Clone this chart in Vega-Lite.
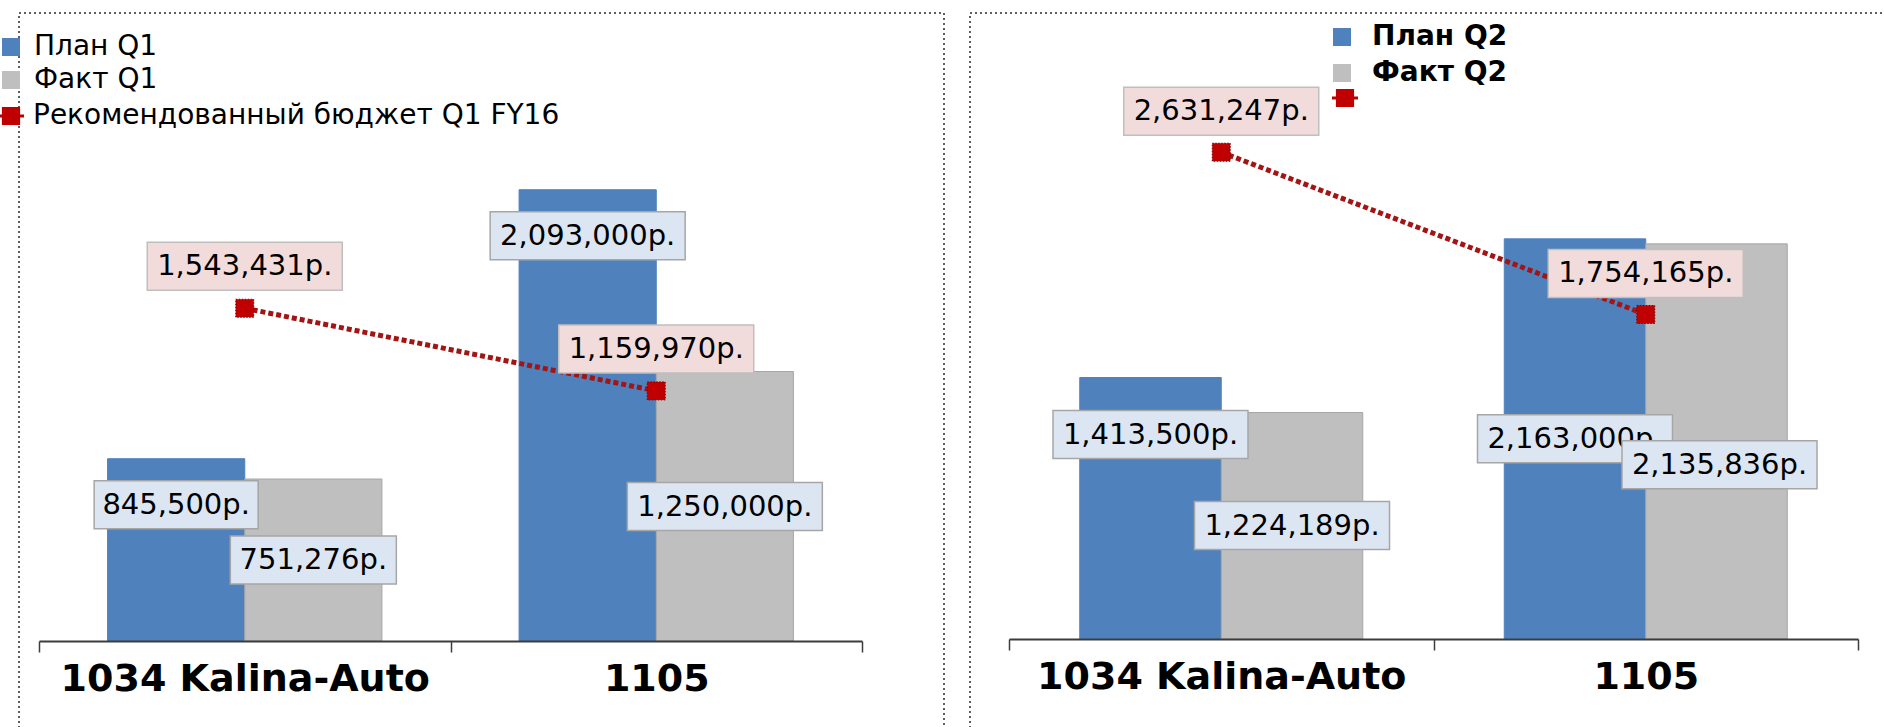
{
  "$schema": "https://vega.github.io/schema/vega-lite/v6.json",
  "background": "white",
  "padding": {"left": -4, "top": 12, "right": 0, "bottom": 0},
  "spacing": 24,
  "resolve": {
    "scale": {"color": "independent", "fill": "independent", "xOffset": "independent", "x": "independent", "y": "independent"},
    "legend": {"color": "independent", "fill": "independent"}
  },
  "config": {
    "font": "DejaVu Sans",
    "view": {"stroke": "#2a2a2a", "strokeDash": [2, 3], "strokeWidth": 1.5}
  },
  "datasets": {
    "q1": [
      {"category": "1034 Kalina-Auto", "series": "План Q1", "value": 845500},
      {"category": "1105", "series": "План Q1", "value": 2093000},
      {"category": "1034 Kalina-Auto", "series": "Факт Q1", "value": 751276},
      {"category": "1105", "series": "Факт Q1", "value": 1250000},
      {"category": "1034 Kalina-Auto", "series": "Рекомендованный бюджет Q1 FY16", "value": 1543431},
      {"category": "1105", "series": "Рекомендованный бюджет Q1 FY16", "value": 1159970}
    ],
    "q2": [
      {"category": "1034 Kalina-Auto", "series": "План Q2", "value": 1413500},
      {"category": "1105", "series": "План Q2", "value": 2163000},
      {"category": "1034 Kalina-Auto", "series": "Факт Q2", "value": 1224189},
      {"category": "1105", "series": "Факт Q2", "value": 2135836},
      {"category": "1034 Kalina-Auto", "series": "Рекомендованный бюджет Q2 FY16", "value": 2631247},
      {"category": "1105", "series": "Рекомендованный бюджет Q2 FY16", "value": 1754165}
    ]
  },
  "hconcat": [
    {
      "width": 925,
      "height": 720,
      "data": {"name": "q1"},
      "transform": [{"calculate": "format(datum.value, ',') + 'р.'", "as": "label"}],
      "encoding": {
        "x": {
          "field": "category", "type": "nominal", "sort": ["1034 Kalina-Auto", "1105"],
          "scale": {"range": [20, 843], "paddingInner": 0, "paddingOuter": 0},
          "axis": {
            "title": null, "orient": "bottom", "offset": -92, "zindex": 1, "grid": false,
            "labelAngle": 0, "labelOverlap": false, "labelLimit": 0,
            "domainColor": "#3c3c3c", "domainWidth": 2,
            "tickColor": "#3c3c3c", "tickWidth": 1.5, "tickSize": 11, "tickBand": "extent",
            "labelFont": "DejaVu Sans", "labelFontWeight": "bold", "labelFontSize": 38,
            "labelColor": "#000000", "labelBaseline": "middle", "labelPadding": 27
          }
        },
        "y": {
          "field": "value", "type": "quantitative",
          "scale": {"domain": [0, 2500000], "range": [628, 89], "nice": false},
          "axis": null
        }
      },
      "layer": [
        {
          "transform": [{"filter": {"field": "series", "oneOf": ["План Q1", "Факт Q1"]}}],
          "mark": {"type": "bar", "strokeWidth": 1, "stroke": {"expr": "datum.series == 'Факт Q1' ? '#a6a6a6' : '#4f81bd'"}},
          "encoding": {
            "xOffset": {"field": "series", "type": "nominal", "sort": ["План Q1", "Факт Q1"], "scale": {"domain": ["План Q1", "Факт Q1"], "paddingInner": 0, "paddingOuter": 0.5}},
            "color": {
              "field": "series", "type": "nominal",
              "scale": {"domain": ["План Q1", "Факт Q1"], "range": ["#4f81bd", "#bfbfbf"]},
              "legend": {
                "title": null, "orient": "none", "legendX": -22, "legendY": 20, "padding": 0,
                "symbolType": "square", "symbolSize": 324, "symbolStrokeWidth": 0,
                "labelFont": "DejaVu Sans", "labelFontSize": 28, "labelFontWeight": "normal", "labelColor": "#000000",
                "labelOffset": 9, "rowPadding": 5, "labelLimit": 0
              }
            }
          }
        },
        {
          "transform": [{"filter": {"field": "series", "equal": "Рекомендованный бюджет Q1 FY16"}}],
          "mark": {"type": "line", "color": "#a31515", "strokeWidth": 5, "strokeDash": [5, 3]},
          "encoding": {}
        },
        {
          "transform": [{"filter": {"field": "series", "equal": "Рекомендованный бюджет Q1 FY16"}}],
          "mark": {"type": "point", "shape": "square", "filled": true, "size": 324, "opacity": 1, "stroke": "#7a0000", "strokeWidth": 1, "strokeDash": [1.5, 1.5]},
          "encoding": {
            "fill": {
              "field": "series", "type": "nominal",
              "scale": {"domain": ["Рекомендованный бюджет Q1 FY16"], "range": ["#c00000"]},
              "legend": {
                "title": null, "orient": "none", "legendX": -22, "legendY": 89, "padding": 0,
                "symbolType": "M-1,-0.12H1V0.12H-1Z M-0.7,-0.7H0.7V0.7H-0.7Z", "symbolSize": 676, "symbolStrokeWidth": 0,
                "labelFont": "DejaVu Sans", "labelFontSize": 28, "labelFontWeight": "normal", "labelColor": "#000000",
                "labelOffset": 8, "labelLimit": 0
              }
            }
          }
        },
        {
          "transform": [{"filter": {"field": "series", "equal": "План Q1"}}],
          "mark": {"type": "point", "filled": true, "opacity": 1, "size": 10000, "fill": "#dce6f2", "stroke": "#a6a6a6", "strokeWidth": 1.5},
          "encoding": {
            "xOffset": {"field": "series", "type": "nominal", "sort": ["План Q1", "Факт Q1"], "scale": {"domain": ["План Q1", "Факт Q1"], "paddingInner": 0, "paddingOuter": 0.5}},
            "shape": {"condition": {"test": "datum.category == '1105'", "value": "M-1.95,0.44H1.95V1.4H-1.95Z"}, "value": "M-1.64,0.44H1.64V1.4H-1.64Z"}
          }
        },
        {
          "transform": [{"filter": {"field": "series", "equal": "План Q1"}}],
          "mark": {"type": "text", "font": "DejaVu Sans", "fontSize": 29, "color": "#000000", "baseline": "middle", "dy": 46},
          "encoding": {
            "xOffset": {"field": "series", "type": "nominal", "sort": ["План Q1", "Факт Q1"], "scale": {"domain": ["План Q1", "Факт Q1"], "paddingInner": 0, "paddingOuter": 0.5}},
            "text": {"field": "label", "type": "nominal"}
          }
        },
        {
          "transform": [{"filter": {"field": "series", "equal": "Факт Q1"}}],
          "mark": {"type": "point", "filled": true, "opacity": 1, "size": 10000, "fill": "#dce6f2", "stroke": "#a6a6a6", "strokeWidth": 1.5},
          "encoding": {
            "xOffset": {"field": "series", "type": "nominal", "sort": ["План Q1", "Факт Q1"], "scale": {"domain": ["План Q1", "Факт Q1"], "paddingInner": 0, "paddingOuter": 0.5}},
            "shape": {"condition": {"test": "datum.category == '1105'", "value": "M-1.95,2.22H1.95V3.18H-1.95Z"}, "value": "M-1.66,1.14H1.66V2.1H-1.66Z"}
          }
        },
        {
          "transform": [{"filter": {"field": "series", "equal": "Факт Q1"}}],
          "mark": {"type": "text", "font": "DejaVu Sans", "fontSize": 29, "color": "#000000", "baseline": "middle", "dy": {"expr": "datum.category == '1105' ? 135 : 81"}},
          "encoding": {
            "xOffset": {"field": "series", "type": "nominal", "sort": ["План Q1", "Факт Q1"], "scale": {"domain": ["План Q1", "Факт Q1"], "paddingInner": 0, "paddingOuter": 0.5}},
            "text": {"field": "label", "type": "nominal"}
          }
        },
        {
          "transform": [{"filter": {"field": "series", "equal": "Рекомендованный бюджет Q1 FY16"}}],
          "mark": {"type": "point", "filled": true, "opacity": 1, "size": 10000, "fill": "#f2dcdb", "stroke": "#bfbfbf", "strokeWidth": 1.5, "shape": "M-1.95,-1.32H1.95V-0.36H-1.95Z"},
          "encoding": {}
        },
        {
          "transform": [{"filter": {"field": "series", "equal": "Рекомендованный бюджет Q1 FY16"}}],
          "mark": {"type": "text", "font": "DejaVu Sans", "fontSize": 29, "color": "#000000", "baseline": "middle", "dy": -42},
          "encoding": {"text": {"field": "label", "type": "nominal"}}
        }
      ]
    },
    {
      "width": 920,
      "height": 720,
      "data": {"name": "q2"},
      "transform": [{"calculate": "format(datum.value, ',') + 'р.'", "as": "label"}],
      "encoding": {
        "x": {
          "field": "category", "type": "nominal", "sort": ["1034 Kalina-Auto", "1105"],
          "scale": {"range": [39, 888], "paddingInner": 0, "paddingOuter": 0},
          "axis": {
            "title": null, "orient": "bottom", "offset": -94, "zindex": 1, "grid": false,
            "labelAngle": 0, "labelOverlap": false, "labelLimit": 0,
            "domainColor": "#3c3c3c", "domainWidth": 2,
            "tickColor": "#3c3c3c", "tickWidth": 1.5, "tickSize": 11, "tickBand": "extent",
            "labelFont": "DejaVu Sans", "labelFontWeight": "bold", "labelFontSize": 38,
            "labelColor": "#000000", "labelBaseline": "middle", "labelPadding": 27
          }
        },
        "y": {
          "field": "value", "type": "quantitative",
          "scale": {"domain": [0, 3000000], "range": [626, 71], "nice": false},
          "axis": null
        }
      },
      "layer": [
        {
          "transform": [{"filter": {"field": "series", "oneOf": ["План Q2", "Факт Q2"]}}],
          "mark": {"type": "bar", "strokeWidth": 1, "stroke": {"expr": "datum.series == 'Факт Q2' ? '#a6a6a6' : '#4f81bd'"}},
          "encoding": {
            "xOffset": {"field": "series", "type": "nominal", "sort": ["План Q2", "Факт Q2"], "scale": {"domain": ["План Q2", "Факт Q2"], "paddingInner": 0, "paddingOuter": 0.5}},
            "color": {
              "field": "series", "type": "nominal",
              "scale": {"domain": ["План Q2", "Факт Q2"], "range": ["#4f81bd", "#bfbfbf"]},
              "legend": {
                "title": null, "orient": "none", "legendX": 358, "legendY": 10, "padding": 0,
                "symbolType": "square", "symbolSize": 324, "symbolStrokeWidth": 0,
                "labelFont": "DejaVu Sans", "labelFontSize": 28, "labelFontWeight": "bold", "labelColor": "#000000",
                "labelOffset": 16, "rowPadding": 8, "labelLimit": 0
              }
            }
          }
        },
        {
          "transform": [{"filter": {"field": "series", "equal": "Рекомендованный бюджет Q2 FY16"}}],
          "mark": {"type": "line", "color": "#a31515", "strokeWidth": 5, "strokeDash": [5, 3]},
          "encoding": {}
        },
        {
          "transform": [{"filter": {"field": "series", "equal": "Рекомендованный бюджет Q2 FY16"}}],
          "mark": {"type": "point", "shape": "square", "filled": true, "size": 324, "opacity": 1, "stroke": "#7a0000", "strokeWidth": 1, "strokeDash": [1.5, 1.5]},
          "encoding": {
            "fill": {
              "field": "series", "type": "nominal",
              "scale": {"domain": ["Рекомендованный бюджет Q2 FY16"], "range": ["#c00000"]},
              "legend": {
                "title": null, "orient": "none", "legendX": 361, "legendY": 71, "padding": 0,
                "symbolType": "M-1,-0.12H1V0.12H-1Z M-0.7,-0.7H0.7V0.7H-0.7Z", "symbolSize": 676, "symbolStrokeWidth": 0,
                "labelExpr": "''", "labelFontSize": 28
              }
            }
          }
        },
        {
          "transform": [{"filter": {"field": "series", "equal": "План Q2"}}],
          "mark": {"type": "point", "filled": true, "opacity": 1, "size": 10000, "fill": "#dce6f2", "stroke": "#a6a6a6", "strokeWidth": 1.5},
          "encoding": {
            "xOffset": {"field": "series", "type": "nominal", "sort": ["План Q2", "Факт Q2"], "scale": {"domain": ["План Q2", "Факт Q2"], "paddingInner": 0, "paddingOuter": 0.5}},
            "shape": {"condition": {"test": "datum.category == '1105'", "value": "M-1.95,3.52H1.95V4.48H-1.95Z"}, "value": "M-1.95,0.66H1.95V1.62H-1.95Z"}
          }
        },
        {
          "transform": [{"filter": {"field": "series", "equal": "План Q2"}}],
          "mark": {"type": "text", "font": "DejaVu Sans", "fontSize": 29, "color": "#000000", "baseline": "middle", "dy": {"expr": "datum.category == '1105' ? 200 : 57"}},
          "encoding": {
            "xOffset": {"field": "series", "type": "nominal", "sort": ["План Q2", "Факт Q2"], "scale": {"domain": ["План Q2", "Факт Q2"], "paddingInner": 0, "paddingOuter": 0.5}},
            "text": {"field": "label", "type": "nominal"}
          }
        },
        {
          "transform": [{"filter": {"field": "series", "equal": "Факт Q2"}}],
          "mark": {"type": "point", "filled": true, "opacity": 1, "size": 10000, "fill": "#dce6f2", "stroke": "#a6a6a6", "strokeWidth": 1.5},
          "encoding": {
            "xOffset": {"field": "series", "type": "nominal", "sort": ["План Q2", "Факт Q2"], "scale": {"domain": ["План Q2", "Факт Q2"], "paddingInner": 0, "paddingOuter": 0.5}},
            "shape": {"condition": {"test": "datum.category == '1105'", "value": "M-1.89,3.94H2.01V4.9H-1.89Z"}, "value": "M-1.95,1.78H1.95V2.74H-1.95Z"}
          }
        },
        {
          "transform": [{"filter": {"field": "series", "equal": "Факт Q2"}}],
          "mark": {"type": "text", "font": "DejaVu Sans", "fontSize": 29, "color": "#000000", "baseline": "middle", "dy": {"expr": "datum.category == '1105' ? 221 : 113"}, "dx": {"expr": "datum.category == '1105' ? 3 : 0"}},
          "encoding": {
            "xOffset": {"field": "series", "type": "nominal", "sort": ["План Q2", "Факт Q2"], "scale": {"domain": ["План Q2", "Факт Q2"], "paddingInner": 0, "paddingOuter": 0.5}},
            "text": {"field": "label", "type": "nominal"}
          }
        },
        {
          "transform": [{"filter": {"field": "series", "equal": "Рекомендованный бюджет Q2 FY16"}}],
          "mark": {"type": "point", "filled": true, "opacity": 1, "size": 10000, "fill": "#f2dcdb", "stroke": "#bfbfbf", "strokeWidth": 1.5, "shape": "M-1.95,-1.3H1.95V-0.34H-1.95Z"},
          "encoding": {}
        },
        {
          "transform": [{"filter": {"field": "series", "equal": "Рекомендованный бюджет Q2 FY16"}}],
          "mark": {"type": "text", "font": "DejaVu Sans", "fontSize": 29, "color": "#000000", "baseline": "middle", "dy": -41},
          "encoding": {"text": {"field": "label", "type": "nominal"}}
        }
      ]
    }
  ]
}
